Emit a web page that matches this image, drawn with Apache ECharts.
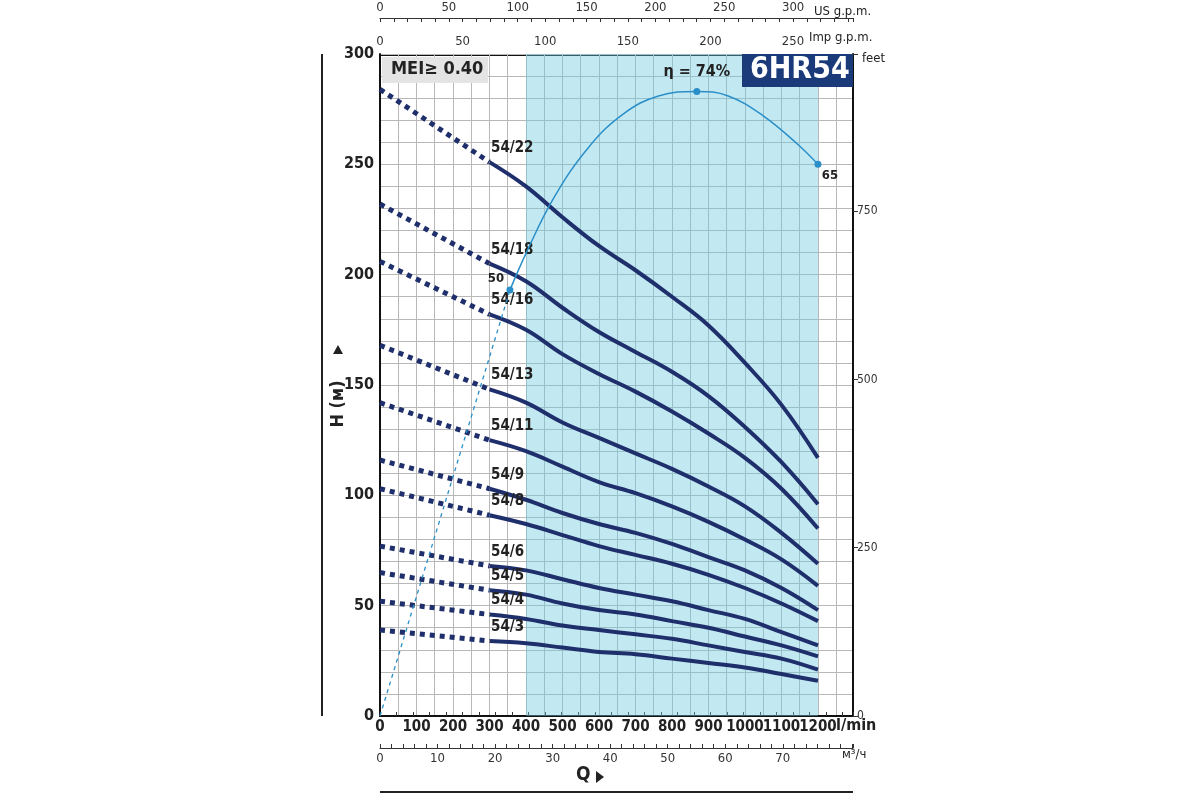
<!DOCTYPE html>
<html>
<head>
<meta charset="utf-8">
<script src="https://cdn.jsdelivr.net/npm/echarts@6/dist/echarts.min.js"></script>
<style>body{margin:0;background:#fff}#chart{width:1200px;height:800px}</style>
</head>
<body>
<div id="chart"></div>
<script>
var flow = [0, 300, 400, 500, 600, 700, 800, 900, 1000, 1100, 1200];
var pumps = ['54/22', '54/18', '54/16', '54/13', '54/11', '54/9', '54/8', '54/6', '54/5', '54/4', '54/3'];
var heads = [
  [284, 251, 240, 226, 213, 202, 190, 177, 160, 141, 117],
  [232, 205, 197, 185, 174, 165, 156, 145, 131, 115, 96],
  [206, 182, 175, 164, 155, 147, 138, 128, 117, 103, 85],
  [168, 148, 142, 133, 126, 119, 112, 104, 95, 83, 69],
  [142, 125, 120, 113, 106, 101, 95, 88, 80, 71, 59],
  [116, 103, 98, 92, 87, 83, 78, 72, 66, 58, 48],
  [103, 91, 87, 82, 77, 73, 69, 64, 58, 51, 43],
  [77, 68, 66, 62, 58, 55, 52, 48, 44, 38, 32],
  [65, 57, 55, 51, 48, 46, 43, 40, 36, 32, 27],
  [52, 46, 44, 41, 39, 37, 35, 32, 29, 26, 21],
  [39, 34, 33, 31, 29, 28, 26, 24, 22, 19, 16]
];
var effFlow = [356, 401, 477, 573, 668, 763, 868, 954, 1050, 1145, 1200];
var effHead = [193, 210, 235, 258, 273, 281, 283, 281, 272, 259, 250];
var effDashFlow = [0, 356];
var effDashHead = [0, 193];

var font = "'Liberation Sans Narrow', 'DejaVu Sans Condensed', sans-serif";
var navy = '#1f2f6b';
var eff = '#2a8fc8';

var series = [];
pumps.forEach(function (name, i) {
  var dash = [], solid = [];
  flow.forEach(function (q, j) {
    if (q <= 300) dash.push([q, heads[i][j]]);
    if (q >= 300) solid.push([q, heads[i][j]]);
  });
  series.push({
    type: 'line', data: dash, symbol: 'none', z: 3,
    lineStyle: {color: navy, width: 5, type: [5, 5]}
  });
  series.push({
    type: 'line', data: solid, symbol: 'none', smooth: 0.4, z: 4,
    lineStyle: {color: navy, width: 4},
    markPoint: {
      symbol: 'circle', symbolSize: 1,
      data: [{coord: solid[0], label: {show: true, formatter: name, position: 'right', offset: [-4, -14],
        fontFamily: font, fontWeight: 'bold', fontSize: 15, color: '#222'}}]
    },
    markArea: i === 0 ? {silent: true, itemStyle: {color: 'rgba(110,200,225,0.42)'}, data: [[{xAxis: 400}, {xAxis: 1200}]]} : undefined
  });
});
series.push({
  type: 'line', data: effDashFlow.map(function (q, j) { return [q, effDashHead[j]]; }),
  symbol: 'none', z: 5, lineStyle: {color: eff, width: 1.3, type: [4, 4]}
});
var effMarks = {0: '50', 6: 'η = 74%', 10: '65'};
series.push({
  type: 'line', data: effFlow.map(function (q, j) { return [q, effHead[j]]; }),
  smooth: 0.4, z: 5, symbol: 'circle',
  symbolSize: function (v, p) { return effMarks[p.dataIndex] ? 7 : 0; },
  itemStyle: {color: eff},
  lineStyle: {color: eff, width: 1.5},
  label: {
    show: true, fontFamily: font, fontWeight: 'bold', fontSize: 13, color: '#222',
    formatter: function (p) { return effMarks[p.dataIndex] || ''; },
    position: 'bottom'
  },
  labelLayout: function (p) {
    if (p.dataIndex === 0) return {dx: -14, dy: -26};
    if (p.dataIndex === 6) return {dy: -36, fontSize: 16};
    if (p.dataIndex === 10) return {dx: 12, dy: -4};
    return {};
  }
});

function every(step, max) {
  return function (v) { return (Math.round(v) % step === 0 && v <= max) ? Math.round(v) : ''; };
}

var chart = echarts.init(document.getElementById('chart'));
chart.setOption({
  animation: false,
  grid: {left: 380, right: 347, top: 54, bottom: 84, show: false},
  xAxis: [
    {type: 'value', min: 0, max: 1296, interval: 50, position: 'bottom',
      axisLine: {onZero: false, lineStyle: {color: '#111', width: 2}}, axisTick: {show: false},
      splitLine: {show: true, lineStyle: {color: '#b8b8b8', width: 1}},
      axisLabel: {formatter: every(100, 1200), fontFamily: font, fontWeight: 'bold', fontSize: 15, color: '#222', margin: 4, hideOverlap: false}},
    {type: 'value', min: 0, max: 82.2, interval: 2, position: 'bottom', offset: 32,
      axisLine: {onZero: false, lineStyle: {color: '#333', width: 1}},
      axisTick: {inside: true, length: 4, lineStyle: {color: '#333'}}, splitLine: {show: false},
      axisLabel: {formatter: every(10, 70), fontFamily: font, fontSize: 13, color: '#333', margin: 4}},
    {type: 'value', min: 0, max: 286.3, interval: 10, position: 'top', offset: 0,
      axisLine: {show: false}, axisTick: {length: 4, lineStyle: {color: '#333'}}, splitLine: {show: false},
      axisLabel: {formatter: every(50, 250), fontFamily: font, fontSize: 13, color: '#333', margin: 6}},
    {type: 'value', min: 0, max: 343.5, interval: 10, position: 'top', offset: 36,
      axisLine: {onZero: false, lineStyle: {color: '#333', width: 1}},
      axisTick: {inside: true, length: 4, lineStyle: {color: '#333'}}, splitLine: {show: false},
      axisLabel: {formatter: every(50, 300), fontFamily: font, fontSize: 13, color: '#333', margin: 4}}
  ],
  yAxis: [
    {type: 'value', min: 0, max: 300, interval: 10, position: 'left',
      axisLine: {show: true, onZero: false, lineStyle: {color: '#111', width: 2}}, axisTick: {show: false},
      splitLine: {show: true, lineStyle: {color: '#b8b8b8', width: 1}},
      axisLabel: {formatter: every(50, 300), fontFamily: font, fontWeight: 'bold', fontSize: 16, color: '#222', margin: 6}},
    {type: 'value', min: 0, max: 983.6, interval: 250, position: 'right',
      axisLine: {show: true, onZero: false, lineStyle: {color: '#111', width: 2}},
      axisTick: {length: 5, lineStyle: {color: '#333'}}, splitLine: {show: false},
      axisLabel: {formatter: every(250, 750), fontFamily: font, fontSize: 12, color: '#333', margin: 4}}
  ],
  series: series,
  graphic: [
    {type: 'line', shape: {x1: 380, y1: 55, x2: 853, y2: 55}, style: {stroke: '#111', lineWidth: 2}},
    {type: 'rect', z: 10, shape: {x: 382, y: 57, width: 106, height: 26}, style: {fill: '#e4e4e4'}},
    {type: 'text', z: 11, left: 391, top: 60, style: {text: 'MEI≥ 0.40', font: 'bold 18px ' + font, fill: '#222'}},
    {type: 'rect', z: 10, shape: {x: 742, y: 54, width: 111, height: 33}, style: {fill: '#1b3a7a'}},
    {type: 'text', z: 11, left: 750, top: 55, style: {text: '6HR54', font: 'bold 30px ' + font, fill: '#fff'}},
    {type: 'text', left: 862, top: 52, style: {text: 'feet', font: '13px ' + font, fill: '#222'}},
    {type: 'text', left: 814, top: 5, style: {text: 'US g.p.m.', font: '13px ' + font, fill: '#222'}},
    {type: 'text', left: 809, top: 31, style: {text: 'Imp g.p.m.', font: '13px ' + font, fill: '#222'}},
    {type: 'text', left: 836, top: 718, style: {text: 'l/min', font: 'bold 16px ' + font, fill: '#222'}},
    {type: 'text', left: 842, top: 748, style: {text: 'м³/ч', font: '13px ' + font, fill: '#222'}},
    {type: 'line', shape: {x1: 322, y1: 54, x2: 322, y2: 716}, style: {stroke: '#222', lineWidth: 2}},
    {type: 'text', x: 338, y: 404, rotation: Math.PI / 2, style: {text: 'H (м)', font: 'bold 18px ' + font, fill: '#222', align: 'center', verticalAlign: 'middle'}},
    {type: 'polygon', shape: {points: [[338, 345], [333, 354], [343, 354]]}, style: {fill: '#222'}},
    {type: 'text', left: 576, top: 766, style: {text: 'Q', font: 'bold 19px ' + font, fill: '#222'}},
    {type: 'polygon', shape: {points: [[596, 771], [596, 783], [604, 777]]}, style: {fill: '#222'}},
    {type: 'line', shape: {x1: 380, y1: 792, x2: 853, y2: 792}, style: {stroke: '#222', lineWidth: 2}}
  ]
});
</script>
</body>
</html>
